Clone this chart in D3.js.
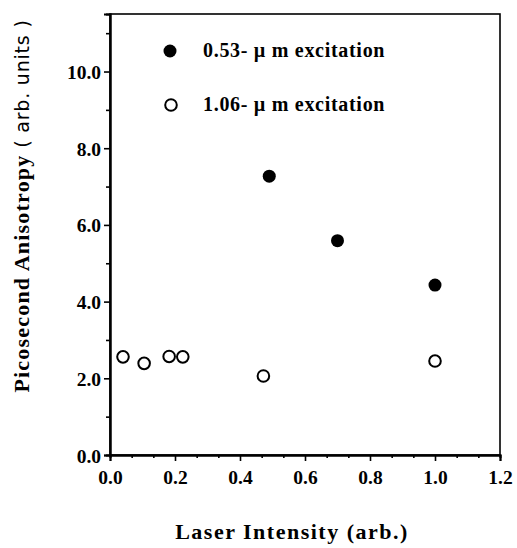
<!DOCTYPE html>
<html><head><meta charset="utf-8">
<script src="https://cdn.jsdelivr.net/npm/d3@7/dist/d3.min.js"></script>
<style>body{margin:0;background:#fff}</style>
</head><body>
<script>
// Data
const seriesNames = ["0.53-\u00b5m excitation", "1.06-\u00b5m excitation"];
const x053 = [0.49, 0.70, 1.00];
const y053 = [7.27, 5.59, 4.43];
const x106 = [0.04, 0.105, 0.182, 0.224, 0.472, 1.00];
const y106 = [2.56, 2.39, 2.57, 2.56, 2.06, 2.45];
const xTicks = [0.0, 0.2, 0.4, 0.6, 0.8, 1.0, 1.2];
const yTicks = [0.0, 2.0, 4.0, 6.0, 8.0, 10.0];
const xTitle = "Laser Intensity (arb.)";
const yTitleMain = "Picosecond Anisotropy";
const yTitleUnits = "( arb. units )";

const W = 517, H = 548;
const m = {left:110, top:14, right:17, bottom:93};
const svg = d3.select("body").append("svg").attr("width", W).attr("height", H);
const x = d3.scaleLinear().domain([0, 1.2]).range([m.left, W - m.right]);
const y = d3.scaleLinear().domain([0, 11.5]).range([H - m.bottom, m.top]);
const font = "'Liberation Serif', 'Times New Roman', serif";

// frame
svg.append("rect").attr("x", x(0)).attr("y", y(11.5)).attr("width", x(1.2)-x(0)).attr("height", y(0)-y(11.5))
  .attr("fill", "none").attr("stroke", "#000").attr("stroke-width", 1.6);

// minor ticks
const xMinor = d3.range(0, 19).map(i => i * 0.2 / 3).filter((v, i) => i % 3 !== 0);
const yMinor = [1, 3, 5, 7, 9, 11];
const gx = svg.append("g").attr("transform", `translate(0,${y(0)})`);
gx.call(d3.axisBottom(x).tickValues(xMinor).tickSize(3).tickFormat(""));
const gy = svg.append("g").attr("transform", `translate(${x(0)},0)`);
gy.call(d3.axisLeft(y).tickValues(yMinor).tickSize(4).tickFormat(""));

// major ticks
const gx2 = svg.append("g").attr("transform", `translate(0,${y(0)})`)
  .call(d3.axisBottom(x).tickValues(xTicks).tickSize(6).tickPadding(9).tickFormat(d3.format(".1f")));
const gy2 = svg.append("g").attr("transform", `translate(${x(0)},0)`)
  .call(d3.axisLeft(y).tickValues(yTicks).tickSize(6).tickPadding(3).tickFormat(d3.format(".1f")));
[gx, gy, gx2, gy2].forEach(g => {
  g.selectAll(".domain").attr("stroke-width", 2);
  g.selectAll(".tick line").attr("stroke-width", 1.6);
  g.selectAll("text").attr("font-family", font).attr("font-weight", "bold").attr("font-size", 19.5).attr("fill", "#000");
});
gy2.selectAll(".tick text").attr("dy", "0.36em");

// points
svg.append("g").selectAll("circle").data(x053.map((v, i) => [v, y053[i]])).join("circle")
  .attr("cx", d => x(d[0])).attr("cy", d => y(d[1])).attr("r", 6.5).attr("fill", "#000");
svg.append("g").selectAll("circle").data(x106.map((v, i) => [v, y106[i]])).join("circle")
  .attr("cx", d => x(d[0])).attr("cy", d => y(d[1])).attr("r", 5.8).attr("fill", "#fff")
  .attr("stroke", "#000").attr("stroke-width", 2);

// legend
const leg = svg.append("g");
leg.append("circle").attr("cx", 170).attr("cy", 51).attr("r", 6.5).attr("fill", "#000");
leg.append("circle").attr("cx", 171).attr("cy", 105).attr("r", 5.8).attr("fill", "#fff").attr("stroke", "#000").attr("stroke-width", 2);
seriesNames.forEach((s, i) => {
  leg.append("text").attr("x", 203).attr("y", 57 + i * 54).text(s.replace("-\u00b5m", "- \u00b5 m"))
    .attr("font-family", font).attr("font-weight", "bold").attr("font-size", 20).attr("letter-spacing", 0.7).attr("fill", "#000");
});

// axis titles
svg.append("text").attr("x", 292).attr("y", 539).attr("text-anchor", "middle")
  .attr("font-family", font).attr("font-weight", "bold").attr("font-size", 22).attr("letter-spacing", 1.5).text(xTitle);
const yt = svg.append("text").attr("transform", `translate(29,206) rotate(-90)`).attr("text-anchor", "middle")
  .attr("font-family", font).attr("font-weight", "bold").attr("font-size", 22).attr("letter-spacing", 1.2);
yt.append("tspan").text(yTitleMain + " ");
yt.append("tspan").attr("font-family", "'DejaVu Sans', sans-serif").attr("font-weight", "normal").attr("font-size", 19).attr("letter-spacing", 0.8).text(yTitleUnits);
</script>
</body></html>
